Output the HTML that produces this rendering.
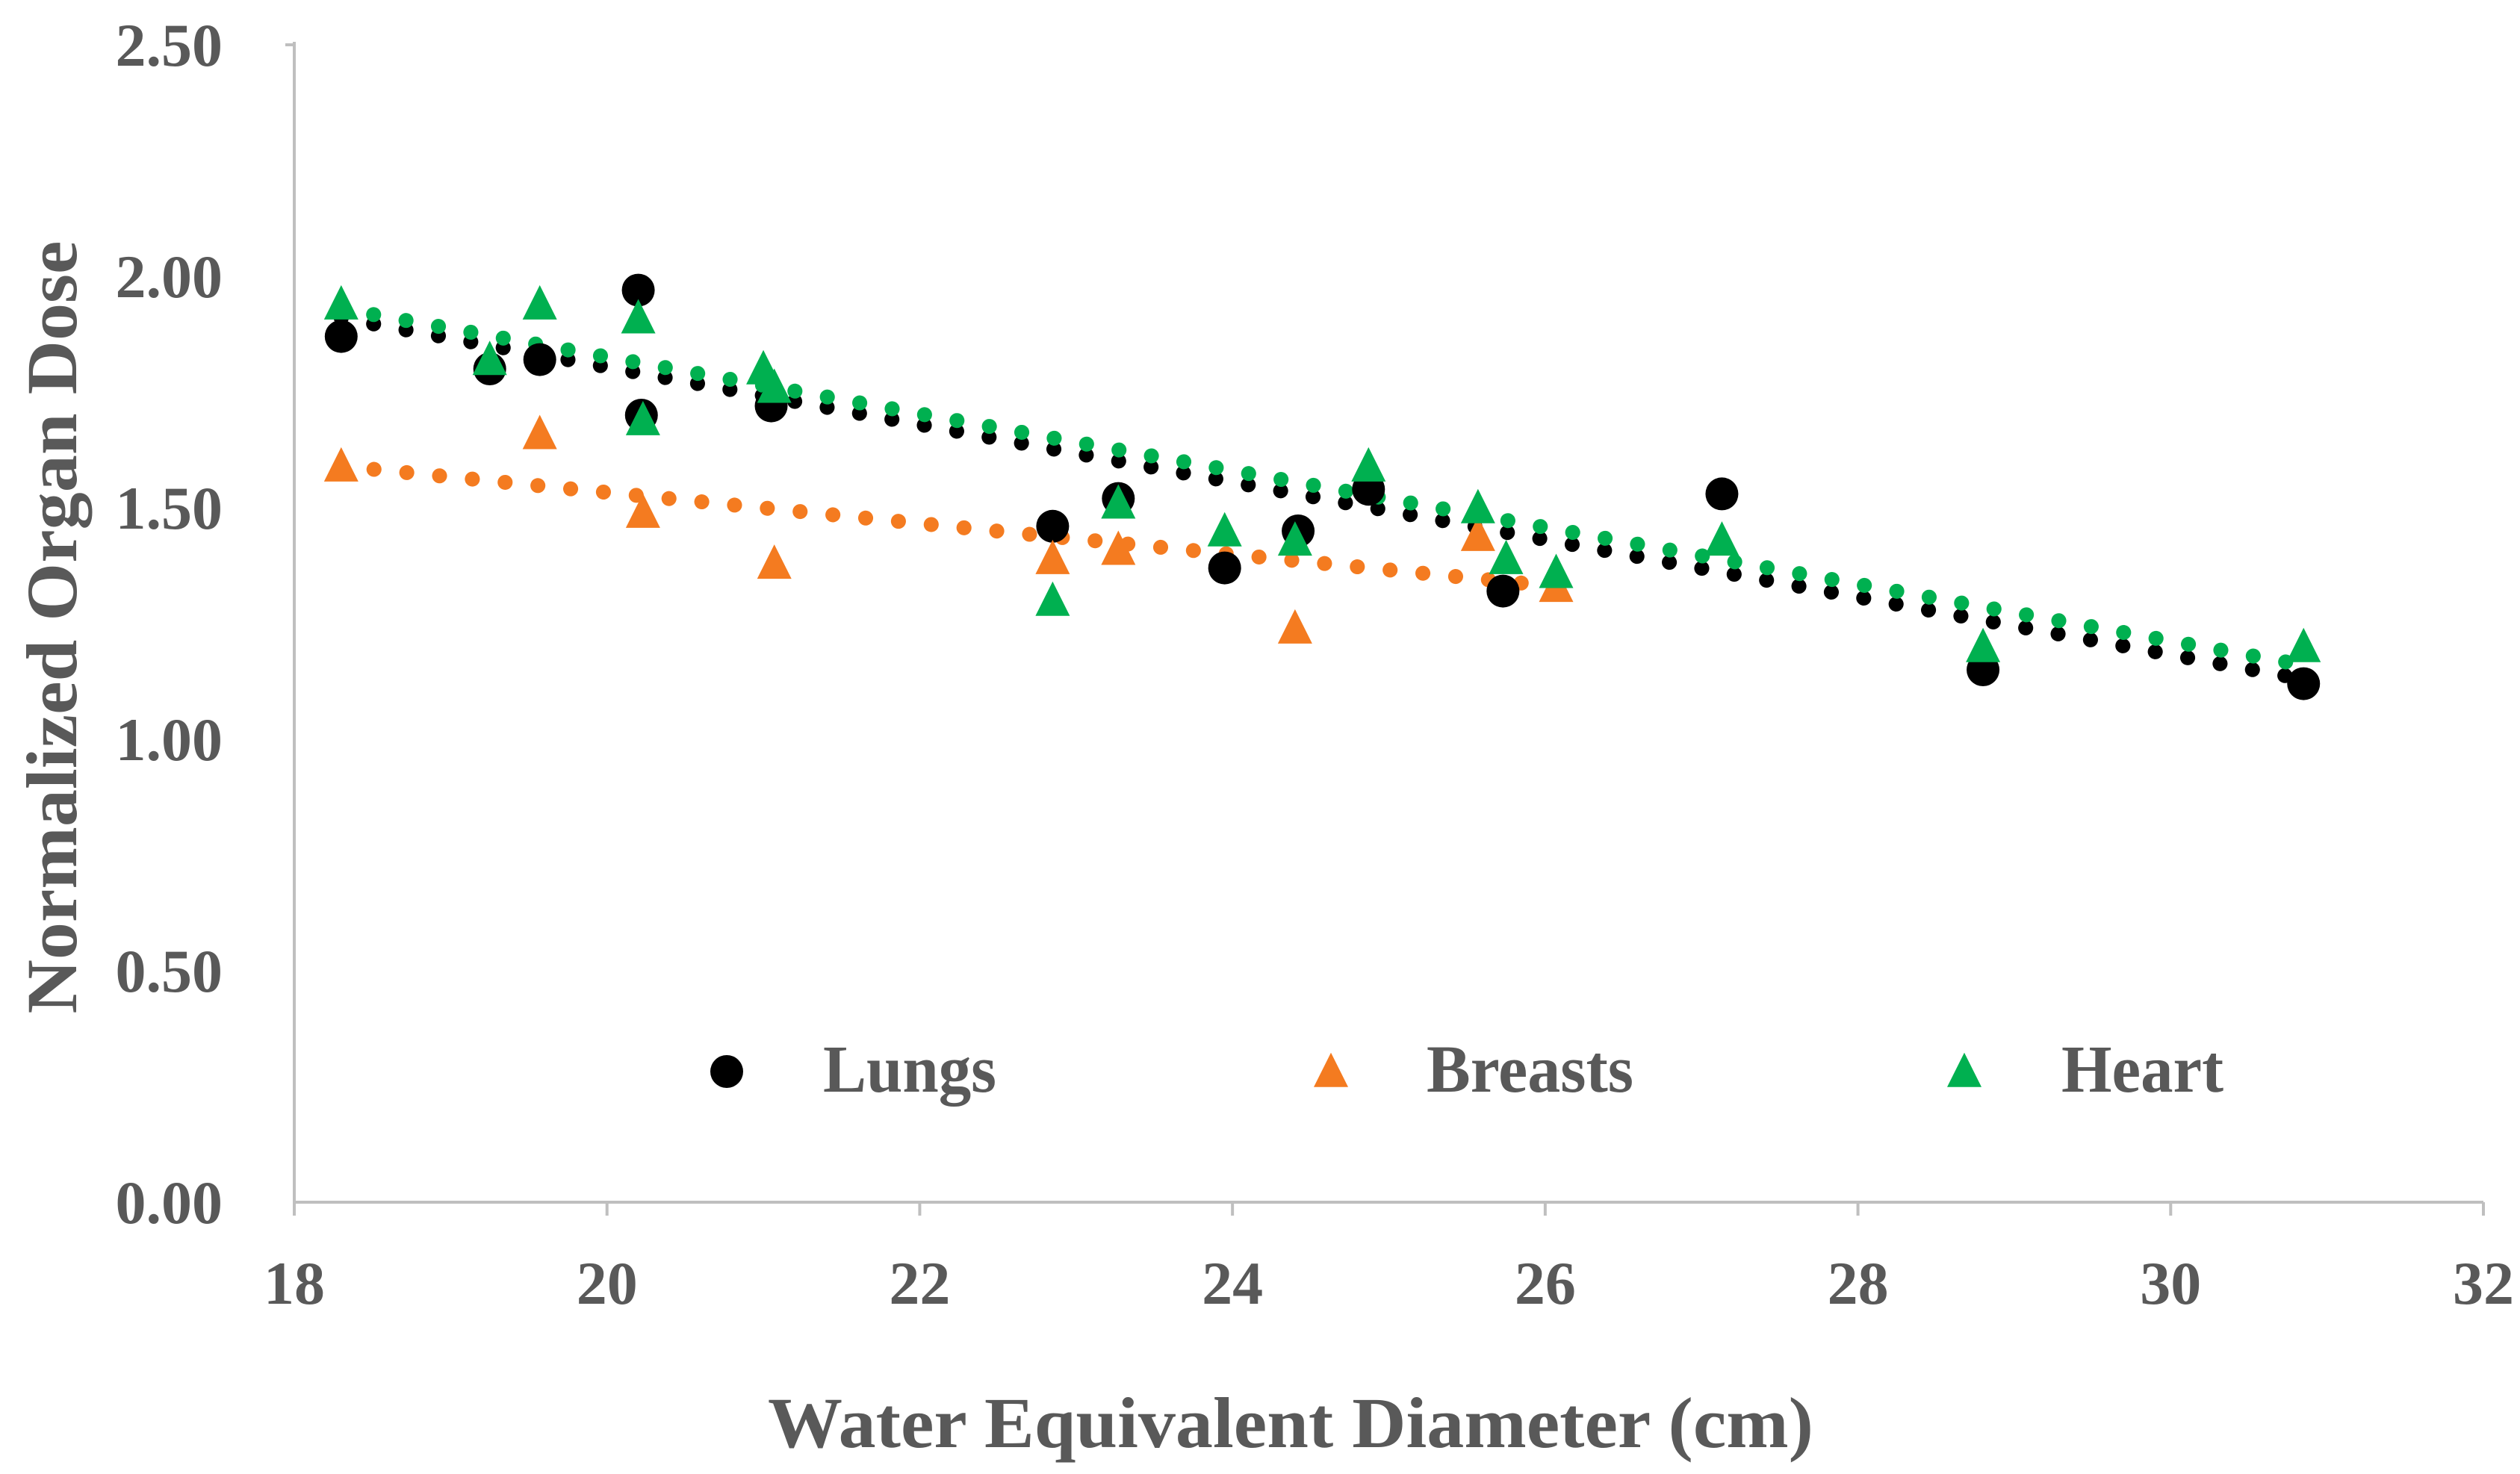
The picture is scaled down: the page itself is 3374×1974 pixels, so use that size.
<!DOCTYPE html>
<html><head><meta charset="utf-8"><style>
html,body{margin:0;padding:0;background:#fff;}
svg{display:block;}
text{font-family:"Liberation Serif",serif;font-weight:bold;fill:#595959;}
</style></head><body>
<svg id="chart" width="3374" height="1974" viewBox="0 0 3374 1974">
<g id="axes"></g><g id="trends"></g><g id="marks"></g><g id="legend"></g>
</svg>
<script>
const xTicks=[18,20,22,24,26,28,30,32];
const yTicks=[0,0.5,1.0,1.5,2.0,2.5];
const yTickLabels=["0.00","0.50","1.00","1.50","2.00","2.50"];
const lungsX=[18.3,19.25,19.57,20.2,20.22,21.05,22.85,23.27,23.95,24.42,24.87,25.73,27.13,28.8,30.85];
const lungsY=[1.87,1.80,1.82,1.97,1.70,1.72,1.46,1.52,1.37,1.45,1.54,1.32,1.53,1.15,1.12];
const breastsX=[18.3,19.57,20.23,21.07,22.85,23.27,24.4,25.57,26.07];
const breastsY=[1.59,1.66,1.49,1.38,1.39,1.41,1.24,1.44,1.33];
const heartX=[18.3,19.25,19.57,20.2,20.23,21.0,21.07,22.85,23.27,23.95,24.4,24.87,25.57,25.75,26.07,27.13,28.8,30.85];
const heartY=[1.94,1.82,1.94,1.91,1.69,1.80,1.76,1.30,1.51,1.45,1.43,1.59,1.50,1.39,1.36,1.43,1.20,1.20];
const lungsTrend=[[18.3,1.91],[30.85,1.13]];
const breastsTrend=[[18.3,1.59],[26.07,1.33]];
const heartTrend=[[18.3,1.93],[30.85,1.16]];

const L=394,R=3325,T=60,B=1610;
const sx=v=>L+(v-18)/(32-18)*(R-L);
const sy=v=>B-(v/2.5)*(B-T);
const NS="http://www.w3.org/2000/svg";
function mk(tag,attrs,parent,txt){const e=document.createElementNS(NS,tag);for(const k in attrs)e.setAttribute(k,attrs[k]);if(txt!==undefined)e.textContent=txt;parent.appendChild(e);return e;}
const axes=document.getElementById('axes'),trends=document.getElementById('trends'),marks=document.getElementById('marks'),legend=document.getElementById('legend');

let e=mk('line',{x1:L,y1:T-4,x2:L,y2:B,stroke:'#bfbfbf','stroke-width':4},axes);


e=mk('line',{x1:L,y1:B,x2:R,y2:B,stroke:'#bfbfbf','stroke-width':4},axes);


e=mk('line',{x1:L-12,y1:sy(2.5),x2:L,y2:sy(2.5),stroke:'#bfbfbf','stroke-width':4},axes);


xTicks.forEach(v=>{
  const t=mk('line',{x1:sx(v),y1:B,x2:sx(v),y2:B+18,stroke:'#bfbfbf','stroke-width':4},axes);
  
  
  const l=mk('text',{x:sx(v),y:1746,'text-anchor':'middle','font-size':82},axes,String(v));
  
  
});
yTicks.forEach((v,i)=>{
  const l=mk('text',{x:298,y:sy(v)+28,'text-anchor':'end','font-size':82},axes,yTickLabels[i]);
  
  
});
e=mk('text',{x:1728,y:1938,'text-anchor':'middle','font-size':96,textLength:1400,lengthAdjust:'spacingAndGlyphs'},axes,'Water Equivalent Diameter (cm)');


e=mk('text',{x:0,y:0,'text-anchor':'middle','font-size':96,textLength:1035,lengthAdjust:'spacingAndGlyphs',transform:'translate(102,840) rotate(-90)'},axes,'Normalized Organ Dose');



function trend(pts,color,name){
  const l=mk('line',{x1:sx(pts[0][0]),y1:sy(pts[0][1]),x2:sx(pts[1][0]),y2:sy(pts[1][1]),stroke:color,'stroke-width':20,'stroke-linecap':'round','stroke-dasharray':'0.1 44'},trends);
  
  
}
trend(breastsTrend,'#f47b20','breasts-trendline');
trend(lungsTrend,'#000','lungs-trendline');
trend(heartTrend,'#00b050','heart-trendline');

function tri(cx,cy,s){return `${cx},${cy-s*0.55} ${cx-s/2},${cy+s*0.45} ${cx+s/2},${cy+s*0.45}`;}
lungsX.forEach((x,i)=>{
  const c=mk('circle',{cx:sx(x),cy:sy(lungsY[i]),r:22,fill:'#000'},marks);
  
  
});
breastsX.forEach((x,i)=>{
  const p=mk('polygon',{points:tri(sx(x),sy(breastsY[i]),46),fill:'#f47b20'},marks);
  
  
});
heartX.forEach((x,i)=>{
  const p=mk('polygon',{points:tri(sx(x),sy(heartY[i]),46),fill:'#00b050'},marks);
  
  
});

e=mk('circle',{cx:973,cy:1435,r:22,fill:'#000'},legend);


e=mk('text',{x:1102,y:1462,'font-size':90,textLength:232,lengthAdjust:'spacingAndGlyphs'},legend,'Lungs');


e=mk('polygon',{points:tri(1782,1435,46),fill:'#f47b20'},legend);


e=mk('text',{x:1910,y:1462,'font-size':90,textLength:277,lengthAdjust:'spacingAndGlyphs'},legend,'Breasts');


e=mk('polygon',{points:tri(2630,1435,46),fill:'#00b050'},legend);


e=mk('text',{x:2760,y:1462,'font-size':90,textLength:217,lengthAdjust:'spacingAndGlyphs'},legend,'Heart');


</script>
</body></html>
